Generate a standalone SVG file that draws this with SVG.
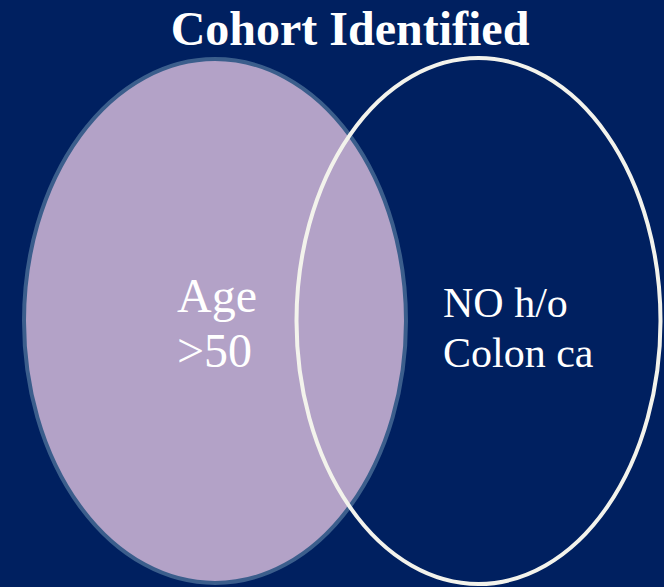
<svg xmlns="http://www.w3.org/2000/svg" width="664" height="587" viewBox="0 0 664 587">
<style>
.t{font-family:"Liberation Serif","Times New Roman",serif;fill:#ffffff}
</style>
<rect x="0" y="0" width="664" height="587" fill="#002060"/>
<text class="t" x="350" y="45" font-size="48" font-weight="bold" text-anchor="middle">Cohort Identified</text>
<g id="age">
<ellipse cx="215" cy="321" rx="191" ry="262" fill="#b3a2c7" stroke="#3b5e8c" stroke-width="4"/>
<text class="t" x="177" y="312" font-size="48">Age</text>
<text class="t" x="177" y="367" font-size="48">&gt;50</text>
</g>
<g id="colon">
<ellipse cx="478.5" cy="321" rx="182" ry="263" fill="none" stroke="#f3f3ec" stroke-width="4"/>
<text class="t" x="443" y="317" font-size="42">NO h/o</text>
<text class="t" x="443" y="367" font-size="42">Colon ca</text>
</g>
<g id="connectors"/>
</svg>
